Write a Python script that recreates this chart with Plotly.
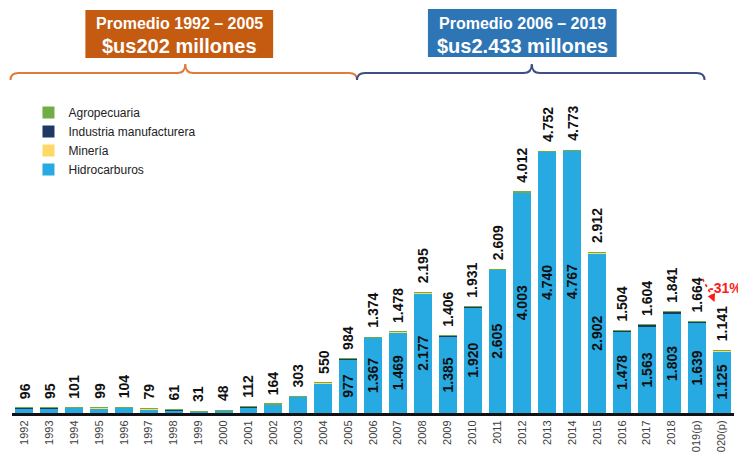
import plotly.graph_objects as go

# ---------------- data ----------------
years = ["1992", "1993", "1994", "1995", "1996", "1997", "1998", "1999", "2000",
         "2001", "2002", "2003", "2004", "2005", "2006", "2007", "2008", "2009",
         "2010", "2011", "2012", "2013", "2014", "2015", "2016", "2017", "2018",
         "2019(p)", "2020(p)"]

totals = [96, 95, 101, 99, 104, 79, 61, 31, 48, 112, 164, 303, 550, 984,
          1374, 1478, 2195, 1406, 1931, 2609, 4012, 4752, 4773, 2912,
          1504, 1604, 1841, 1664, 1141]

hidrocarburos = [86, 85, 92, 90, 95, 72, 52, 24, 40, 104, 157, 297, 544, 977,
                 1367, 1469, 2177, 1385, 1920, 2605, 4003, 4740, 4767, 2902,
                 1478, 1563, 1803, 1639, 1125]

mineria = [2, 2, 2, 2, 2, 1, 2, 1, 1, 2, 1, 1, 1, 1,
           1, 2, 3, 3, 2, 1, 2, 2, 1, 2, 3, 4, 4, 3, 2]

industria = [6, 6, 5, 5, 5, 4, 5, 4, 5, 4, 4, 3, 3, 4,
             4, 5, 12, 14, 7, 2, 5, 8, 3, 6, 19, 32, 29, 18, 11]

agropecuaria = [2, 2, 2, 2, 2, 2, 2, 2, 2, 2, 2, 2, 2, 2,
                2, 2, 3, 4, 2, 1, 2, 2, 2, 2, 4, 5, 5, 4, 3]

hidro_label_from = "2005"

box_left = ["Promedio 1992 – 2005", "$us202 millones"]
box_right = ["Promedio 2006 – 2019", "$us2.433 millones"]
change_label = "-31%"

# ---------------- layout helpers (page pixels -> paper coords) ----------------
OFF = 8                      # default body margin of the html page
W, H = 746 - OFF, 452 - OFF  # figure fits the window without scrollbars
L, T = 3.5, 0
PW = 723.0
PH = 405.0
R = W - L - PW
B = H - T - PH


def xp(px):
    return (px - OFF - L) / PW


def yp(py):
    return (T + PH - (py - OFF)) / PH


def fmt(v):
    return f"{v:,}".replace(",", ".")


FONT = "Liberation Sans, Arial, sans-serif"

C_HID = "#27a9e1"
C_MIN = "#ffd966"
C_IND = "#1f3864"
C_AGR = "#70ad47"

start = years.index(hidro_label_from)
hid_text = [fmt(v) if i >= start else "" for i, v in enumerate(hidrocarburos)]

fig = go.Figure()
fig.add_bar(x=years, y=hidrocarburos, name="Hidrocarburos", marker_color=C_HID,
            marker_line_width=0, text=hid_text, textposition="inside",
            insidetextanchor="middle", textangle=-90, constraintext="none",
            textfont=dict(family=FONT, size=14, color="#111111", weight="bold"),
            hoverinfo="x+y+name")
fig.add_bar(x=years, y=mineria, name="Minería", marker_color=C_MIN,
            marker_line_width=0)
fig.add_bar(x=years, y=industria, name="Industria manufacturera",
            marker_color=C_IND, marker_line_width=0)
fig.add_bar(x=years, y=agropecuaria, name="Agropecuaria", marker_color=C_AGR,
            marker_line_width=0)

annotations = []
for i, tot in enumerate(totals):
    annotations.append(dict(
        x=i, y=tot, xref="x", yref="y", text=fmt(tot), textangle=-90,
        showarrow=False, xanchor="center", yanchor="bottom", yshift=7,
        font=dict(family=FONT, size=14, color="#111111", weight="bold")))


def head(x, y, text, size):
    return dict(x=xp(x), y=yp(y), xref="paper", yref="paper", text=text,
                showarrow=False, xanchor="center", yanchor="middle",
                font=dict(family=FONT, size=size, color="white", weight="bold"))


annotations += [
    head(179, 23, box_left[0], 16),
    head(179, 46, box_left[1], 20),
    head(523, 23, box_right[0], 16),
    head(523, 46, box_right[1], 20),
    dict(x=xp(707), y=yp(288), xref="paper", yref="paper", text=change_label,
         showarrow=False, xanchor="left", yanchor="middle",
         font=dict(family=FONT, size=14, color="#ff1a1a", weight="bold")),
    dict(x=xp(715), y=yp(302), xref="paper", yref="paper", text="",
         showarrow=True, ax=-3, ay=-7, arrowhead=2, arrowsize=1, arrowwidth=1.6,
         arrowcolor="#ff1a1a"),
]


def brace(x0, x1, xc, yl=73, yend=80, ypeak=64, r=8):
    pts = [
        ("M", x0, yend), ("Q", x0, yl), ("", x0 + r, yl), ("L", xc - r, yl),
        ("Q", xc, yl), ("", xc, ypeak), ("Q", xc, yl), ("", xc + r, yl),
        ("L", x1 - r, yl), ("Q", x1, yl), ("", x1, yend)]
    return " ".join(f"{cmd}{xp(px):.5f},{yp(py):.5f}" for cmd, px, py in pts)


shapes = [
    dict(type="rect", xref="paper", yref="paper", x0=xp(85), x1=xp(273),
         y0=yp(58), y1=yp(10), fillcolor="#c55a11", line=dict(width=0), layer="below"),
    dict(type="rect", xref="paper", yref="paper", x0=xp(428), x1=xp(617),
         y0=yp(57), y1=yp(9), fillcolor="#2e75b6", line=dict(width=0), layer="below"),
    dict(type="path", xref="paper", yref="paper", path=brace(10, 357, 185),
         line=dict(color="#e07b39", width=2)),
    dict(type="path", xref="paper", yref="paper", path=brace(357, 705, 532),
         line=dict(color="#3e4f86", width=2)),
    dict(type="line", xref="paper", yref="paper", x0=xp(703), y0=yp(279),
         x1=xp(713), y1=yp(297), line=dict(color="#ff1a1a", width=1.6, dash="dot")),
]

fig.update_layout(
    width=W, height=H,
    margin=dict(l=L, r=R, t=T, b=B, autoexpand=False),
    paper_bgcolor="white", plot_bgcolor="white",
    barmode="stack", bargap=0.28,
    font=dict(family=FONT, color="#222222"),
    showlegend=True,
    legend=dict(x=xp(28), y=yp(141), xanchor="left", yanchor="middle",
                traceorder="reversed", bgcolor="rgba(0,0,0,0)",
                font=dict(family=FONT, size=12, color="#222222"),
                tracegroupgap=0, itemwidth=30),
    annotations=annotations,
    shapes=shapes,
)
fig.update_xaxes(type="category", range=[-0.5, len(years) - 0.5],
                 showline=True, linecolor="#111111", linewidth=3,
                 ticks="", tickangle=-90, showgrid=False, zeroline=False,
                 tickfont=dict(family=FONT, size=11, color="#404040"))
fig.update_yaxes(visible=False, range=[0, PH / 0.0551])

fig.write_html("out.html")
